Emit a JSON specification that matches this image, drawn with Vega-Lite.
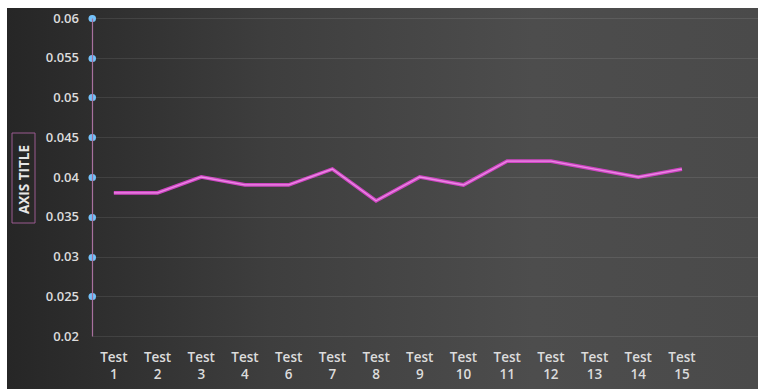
{
  "$schema": "https://vega.github.io/schema/vega-lite/v6.json",
  "autosize": "none",
  "width": 666,
  "height": 318,
  "padding": {"left": 92, "top": 18, "right": 0, "bottom": 53},
  "background": "#ffffff",
  "config": {"view": {"stroke": null}, "font": "Open Sans"},
  "datasets": {
    "results": [
      {"test": "Test 1", "value": 0.038},
      {"test": "Test 2", "value": 0.038},
      {"test": "Test 3", "value": 0.040},
      {"test": "Test 4", "value": 0.039},
      {"test": "Test 6", "value": 0.039},
      {"test": "Test 7", "value": 0.041},
      {"test": "Test 8", "value": 0.037},
      {"test": "Test 9", "value": 0.040},
      {"test": "Test 10", "value": 0.039},
      {"test": "Test 11", "value": 0.042},
      {"test": "Test 12", "value": 0.042},
      {"test": "Test 13", "value": 0.041},
      {"test": "Test 14", "value": 0.040},
      {"test": "Test 15", "value": 0.041}
    ]
  },
  "layer": [
    {
      "data": {"values": [{"panel": "background"}]},
      "mark": {
        "type": "rect",
        "fill": {
          "gradient": "linear",
          "x1": 0, "y1": 0.5, "x2": 1, "y2": 0.5,
          "stops": [
            {"offset": 0, "color": "#262626"},
            {"offset": 0.35, "color": "#3e3e3e"},
            {"offset": 0.7, "color": "#4d4d4d"},
            {"offset": 1, "color": "#4a4a4a"}
          ]
        }
      },
      "encoding": {
        "x": {"value": -85},
        "x2": {"value": 666},
        "y": {"value": -10},
        "y2": {"value": 371}
      }
    },
    {
      "data": {"values": [{"panel": "title frame"}]},
      "mark": {"type": "rect", "fill": null, "stroke": "#9a5a90", "strokeWidth": 1},
      "encoding": {
        "x": {"value": -80},
        "x2": {"value": -57},
        "y": {"value": 115},
        "y2": {"value": 205}
      }
    },
    {
      "data": {"name": "results"},
      "mark": {"type": "line", "color": "#cf45c4", "strokeWidth": 3.8, "strokeJoin": "miter"},
      "encoding": {
        "x": {
          "field": "test",
          "type": "nominal",
          "sort": null,
          "bandPosition": 0.5,
          "scale": {
            "type": "band",
            "domain": ["Test 1", "Test 2", "Test 3", "Test 4", "Test 6", "Test 7", "Test 8", "Test 9", "Test 10", "Test 11", "Test 12", "Test 13", "Test 14", "Test 15"],
            "paddingInner": 0,
            "paddingOuter": 0.62,
            "align": 0
          },
          "axis": {
            "title": null,
            "zindex": 1,
            "domain": false,
            "ticks": false,
            "grid": false,
            "labelAngle": 0,
            "labelExpr": "split(datum.label, ' ')",
            "labelBaseline": "top",
            "labelLineHeight": 17,
            "labelPadding": 14,
            "labelFontSize": 13.5,
            "labelFontWeight": 600,
            "labelColor": "#dcdcdc"
          }
        },
        "y": {
          "field": "value",
          "type": "quantitative",
          "scale": {"domain": [0.02, 0.06], "nice": false, "zero": false},
          "axis": {
            "zindex": 1,
            "values": [0.02, 0.025, 0.03, 0.035, 0.04, 0.045, 0.05, 0.055, 0.06],
            "tickCount": 20,
            "labelOverlap": false,
            "format": "~g",
            "domainColor": "#a8709e",
            "domainWidth": 1.2,
            "grid": true,
            "gridColor": "#ffffff",
            "gridOpacity": 0.09,
            "ticks": true,
            "tickSize": 0.5,
            "tickWidth": 7,
            "tickCap": "round",
            "tickColor": {"condition": {"test": "datum.value < 0.021", "value": "transparent"}, "value": "#74c2fa"},
            "labelColor": "#dcdcdc",
            "labelFontSize": 13,
            "labelFontWeight": 600,
            "labelPadding": 13,
            "title": "AXIS TITLE",
            "titleX": -68,
            "titleY": 161,
            "titleAngle": -90,
            "titleAlign": "center",
            "titleBaseline": "middle",
            "titleFontSize": 13.5,
            "titleFontWeight": "bold",
            "titleColor": "#e6e6e6"
          }
        }
      }
    },
    {
      "data": {"name": "results"},
      "mark": {"type": "line", "color": "#ec88e4", "strokeWidth": 1.3, "strokeJoin": "miter"},
      "encoding": {
        "x": {"field": "test", "type": "nominal", "sort": null, "bandPosition": 0.5},
        "y": {"field": "value", "type": "quantitative"}
      }
    }
  ]
}
